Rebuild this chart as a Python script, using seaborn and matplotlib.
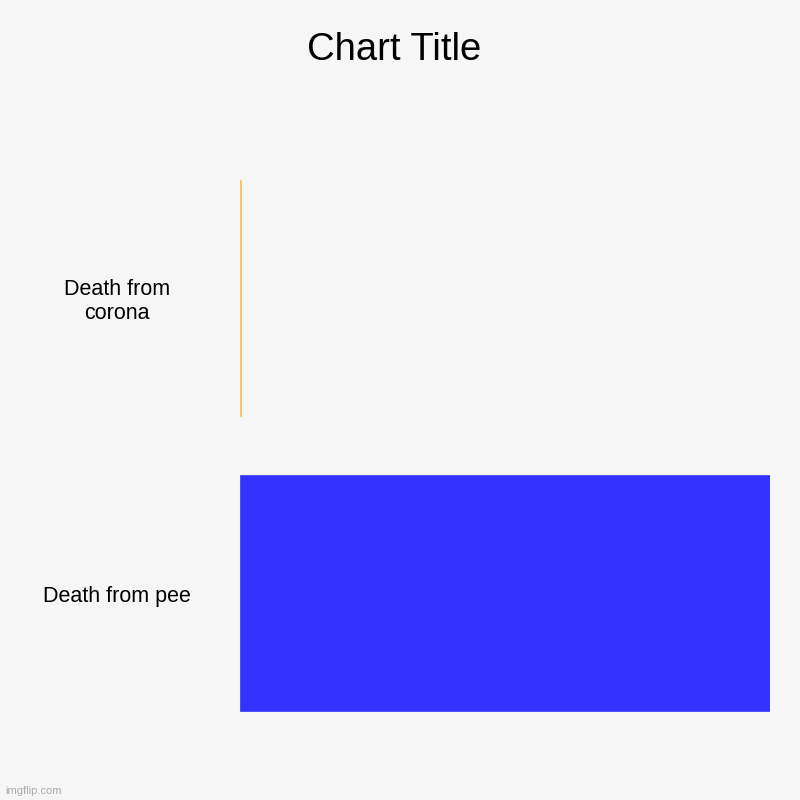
import matplotlib
matplotlib.use('Agg')
import matplotlib.pyplot as plt
import seaborn as sns
import pandas as pd

# data
categories = ['Death from\ncorona', 'Death from pee']
values = [0.2, 100]
colors = ['#ffb84d', '#3333ff']

sns.set_style('white')
plt.rcParams['font.family'] = ['Liberation Sans', 'DejaVu Sans']
plt.rcParams['text.color'] = 'black'

bg = '#f6f6f6'
df = pd.DataFrame({'label': categories, 'value': values})

fig = plt.figure(figsize=(8, 8), dpi=100, facecolor=bg)
ax = fig.add_axes([0.3, 0.075, 0.6625, 0.7375])
ax.set_facecolor(bg)

sns.barplot(data=df, x='value', y='label', hue='label', palette=colors,
            orient='h', width=0.8, legend=False, ax=ax, saturation=1)
# no white edges; tiny bar keeps a thin outline of its own colour
for p in ax.patches:
    p.set_edgecolor(p.get_facecolor())
    p.set_linewidth(0.5)

ax.set_xlim(0, max(values))
ax.set_ylim(1.5, -0.5)
ax.set_xlabel('')
ax.set_ylabel('')
ax.set_xticks([])
ax.set_yticks([])
sns.despine(ax=ax, left=True, bottom=True)

# category labels, centred in the left margin
for i, lab in enumerate(categories):
    ax.text(-0.232, i + 0.014, lab, transform=ax.get_yaxis_transform(),
            ha='center', va='center', fontsize=15.5, linespacing=1.15,
            color='black')

fig.text(0.4925, 0.937, 'Chart Title', ha='center', va='center',
         fontsize=27.5, color='black')
fig.text(0.007, 0.011, 'imgflip.com', ha='left', va='center',
         fontsize=8, color='#aaaaaa')

fig.savefig('out.png', dpi=100, facecolor=bg)
